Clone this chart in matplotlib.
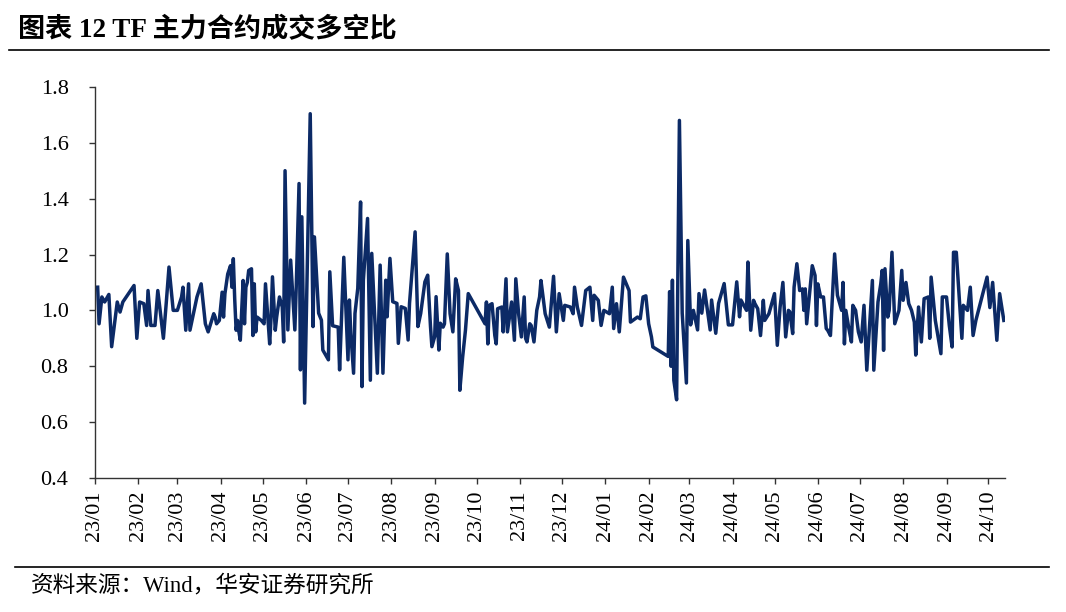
import matplotlib
matplotlib.use('Agg')
import matplotlib.pyplot as plt
import matplotlib.dates as mdates
import matplotlib.ticker as mticker
from matplotlib.lines import Line2D
import pandas as pd

plt.rcParams['font.family'] = ['Liberation Serif', 'Noto Sans CJK SC']

title = '图表 12 TF 主力合约成交多空比'
source = '资料来源：Wind，华安证券研究所'
yticks = [0.4, 0.6, 0.8, 1.0, 1.2, 1.4, 1.6, 1.8]

# (date, long/short volume ratio), 2023
ratio_2023 = [
    ("01-03", 1.083), ("01-04", 0.952), ("01-06", 1.048), ("01-08", 1.03), ("01-11", 1.057),
    ("01-13", 0.87), ("01-17", 1.03), ("01-19", 0.994), ("01-21", 1.03), ("01-29", 1.089),
    ("01-31", 0.90), ("02-02", 1.03), ("02-05", 1.024), ("02-07", 0.946), ("02-08", 1.071),
    ("02-10", 0.946), ("02-13", 0.946), ("02-15", 1.071), ("02-19", 0.90), ("02-21", 1.024),
    ("02-23", 1.155), ("02-26", 1.0), ("03-01", 1.0), ("03-04", 1.048), ("03-05", 1.083),
    ("03-07", 0.929), ("03-09", 1.095), ("03-10", 0.929), ("03-13", 1.0), ("03-15", 1.048),
    ("03-18", 1.095), ("03-21", 0.952), ("03-23", 0.923), ("03-27", 0.988), ("03-28", 0.976),
    ("03-29", 0.952), ("03-31", 0.964), ("04-02", 1.065), ("04-03", 0.976), ("04-04", 1.06),
    ("04-06", 1.13), ("04-08", 1.16), ("04-09", 1.083), ("04-10", 1.185), ("04-11", 1.04),
    ("04-12", 0.929), ("04-13", 0.964), ("04-14", 0.923), ("04-15", 0.893), ("04-17", 1.107),
    ("04-18", 0.952), ("04-19", 1.083), ("04-20", 1.10), ("04-21", 1.143), ("04-23", 1.149),
    ("04-24", 0.91), ("04-25", 1.095), ("04-26", 0.923), ("04-27", 0.976), ("04-30", 0.964),
    ("05-02", 0.952), ("05-03", 1.095), ("05-06", 0.88), ("05-07", 0.976), ("05-08", 1.12),
    ("05-10", 0.929), ("05-11", 0.976), ("05-13", 1.048), ("05-15", 1.012), ("05-16", 0.887),
    ("05-17", 1.50), ("05-19", 0.93), ("05-21", 1.18), ("05-24", 0.93), ("05-25", 1.085),
    ("05-27", 1.454), ("05-28", 0.787), ("05-29", 1.335), ("05-31", 0.668), ("06-04", 1.704),
    ("06-06", 0.942), ("06-07", 1.263), ("06-10", 0.99), ("06-12", 0.965), ("06-13", 0.858),
    ("06-17", 0.823), ("06-18", 1.138), ("06-20", 0.945), ("06-24", 0.94), ("06-25", 0.787),
    ("06-28", 1.19), ("07-01", 0.823), ("07-02", 1.037), ("07-03", 0.918), ("07-05", 0.775),
    ("07-06", 0.989), ("07-08", 1.079), ("07-10", 1.388), ("07-11", 0.727), ("07-12", 1.108),
    ("07-15", 1.329), ("07-17", 0.75), ("07-18", 1.204), ("07-22", 0.775), ("07-24", 1.162),
    ("07-26", 0.775), ("07-28", 1.108), ("07-29", 0.977), ("07-31", 1.186), ("08-02", 1.031),
    ("08-05", 1.025), ("08-06", 0.882), ("08-08", 1.013), ("08-11", 1.007), ("08-13", 0.894),
    ("08-14", 1.025), ("08-18", 1.281), ("08-20", 0.942), ("08-22", 0.989), ("08-25", 1.102),
    ("08-27", 1.126), ("08-29", 0.942), ("08-30", 0.87), ("09-01", 0.906), ("09-02", 1.049),
    ("09-04", 0.858), ("09-05", 0.954), ("09-07", 0.94), ("09-08", 0.952), ("09-10", 1.202),
    ("09-12", 0.988), ("09-14", 0.923), ("09-16", 1.113), ("09-18", 1.071), ("09-19", 0.714),
    ("09-21", 0.833), ("09-23", 0.929), ("09-25", 1.06), ("10-07", 0.952), ("10-08", 1.03),
    ("10-09", 0.88), ("10-10", 1.018), ("10-12", 1.024), ("10-14", 0.91), ("10-15", 0.88),
    ("10-16", 1.006), ("10-19", 1.012), ("10-20", 0.923), ("10-22", 1.113), ("10-23", 0.923),
    ("10-26", 1.03), ("10-28", 0.893), ("10-29", 1.113), ("10-31", 0.988), ("11-02", 0.905),
    ("11-04", 1.048), ("11-05", 0.90), ("11-06", 0.887), ("11-08", 0.952), ("11-09", 0.946),
    ("11-11", 0.887), ("11-13", 1.0), ("11-15", 1.048), ("11-16", 1.107), ("11-19", 0.988),
    ("11-22", 0.94), ("11-25", 1.122), ("11-27", 0.923), ("11-29", 1.06), ("12-02", 0.964),
    ("12-03", 1.018), ("12-07", 1.012), ("12-09", 0.988), ("12-10", 1.083), ("12-12", 1.012),
    ("12-15", 0.946), ("12-18", 1.071), ("12-21", 1.083), ("12-23", 0.964), ("12-24", 1.054),
    ("12-27", 1.036), ("12-29", 0.946), ("12-31", 1.0),
]

# 2024
ratio_2024 = [
    ("01-04", 0.988), ("01-06", 1.083), ("01-07", 0.935), ("01-09", 1.024), ("01-11", 0.923),
    ("01-14", 1.119), ("01-18", 1.071), ("01-19", 0.958), ("01-24", 0.976), ("01-26", 0.97),
    ("01-28", 1.048), ("01-30", 1.052), ("02-01", 0.952), ("02-03", 0.905), ("02-04", 0.869),
    ("02-15", 0.835), ("02-16", 1.067), ("02-17", 0.80), ("02-18", 1.108), ("02-19", 0.75),
    ("02-21", 0.68), ("02-23", 1.68), ("02-25", 0.99), ("02-28", 0.74), ("02-29", 1.25),
    ("03-02", 0.948), ("03-04", 1.0), ("03-07", 0.93), ("03-08", 1.06), ("03-10", 0.99),
    ("03-12", 1.073), ("03-16", 0.93), ("03-17", 1.037), ("03-20", 0.918), ("03-22", 1.025),
    ("03-26", 1.096), ("03-29", 0.948), ("04-01", 0.948), ("04-04", 1.102), ("04-06", 0.977),
    ("04-07", 1.037), ("04-11", 1.0), ("04-12", 1.173), ("04-14", 0.929), ("04-16", 1.036),
    ("04-17", 1.024), ("04-19", 1.006), ("04-21", 0.91), ("04-23", 1.036), ("04-24", 0.964),
    ("04-27", 0.988), ("04-29", 1.024), ("05-01", 1.06), ("05-03", 0.875), ("05-05", 1.012),
    ("05-07", 1.10), ("05-09", 0.905), ("05-11", 1.0), ("05-12", 0.994), ("05-14", 0.917),
    ("05-15", 1.083), ("05-17", 1.167), ("05-19", 1.071), ("05-21", 1.077), ("05-22", 1.0),
    ("05-23", 1.077), ("05-24", 0.952), ("05-28", 1.16), ("05-30", 1.125), ("05-31", 0.946),
    ("06-01", 1.095), ("06-03", 1.048), ("06-05", 1.048), ("06-07", 0.935), ("06-08", 0.929),
    ("06-10", 0.91), ("06-13", 1.202), ("06-15", 1.054), ("06-18", 1.0), ("06-19", 1.10),
    ("06-20", 0.88), ("06-21", 1.0), ("06-23", 0.94), ("06-25", 0.887), ("06-26", 1.018),
    ("06-28", 1.0), ("06-30", 0.923), ("07-02", 0.887), ("07-04", 1.018), ("07-06", 0.786),
    ("07-10", 1.107), ("07-11", 0.786), ("07-14", 1.03), ("07-16", 1.095), ("07-17", 1.143),
    ("07-18", 0.857), ("07-19", 1.149), ("07-21", 0.976), ("07-22", 1.0), ("07-24", 1.208),
    ("07-26", 0.952), ("07-29", 1.0), ("07-31", 1.143), ("08-01", 1.036), ("08-03", 1.10),
    ("08-05", 1.024), ("08-07", 1.0), ("08-09", 0.958), ("08-10", 0.84), ("08-12", 1.012),
    ("08-14", 0.887), ("08-16", 1.042), ("08-19", 1.048), ("08-20", 0.90), ("08-21", 1.119),
    ("08-24", 0.964), ("08-28", 0.845), ("08-29", 1.048), ("09-01", 1.048), ("09-03", 0.946),
    ("09-05", 0.869), ("09-06", 1.208), ("09-08", 1.208), ("09-12", 0.90), ("09-13", 1.018),
    ("09-16", 1.0), ("09-18", 1.083), ("09-20", 0.91), ("09-22", 0.964), ("09-30", 1.119),
    ("10-02", 1.01), ("10-04", 1.10), ("10-07", 0.893), ("10-09", 1.06), ("10-12", 0.964),
]

dates = [pd.Timestamp('2023-' + d) for d, _ in ratio_2023] + \
        [pd.Timestamp('2024-' + d) for d, _ in ratio_2024]
values = [v for _, v in ratio_2023] + [v for _, v in ratio_2024]

fig = plt.figure(figsize=(10.66, 6.12), dpi=100)
ax = fig.add_axes([0.089, 0.219, 0.854, 0.639])

ax.plot(dates, values, color='#0c2a66', lw=2.5)

ax.set_ylim(0.4, 1.8)
ax.set_yticks(yticks)
ax.yaxis.set_major_formatter(mticker.FormatStrFormatter('%.1f'))
ax.set_xlim(pd.Timestamp('2023-01-01'), pd.Timestamp('2024-10-13'))
ax.xaxis.set_major_locator(mdates.MonthLocator())
ax.xaxis.set_major_formatter(mdates.DateFormatter('%y/%m'))

for s in ['top', 'right']:
    ax.spines[s].set_visible(False)
for s in ['left', 'bottom']:
    ax.spines[s].set_color('#333333')
    ax.spines[s].set_linewidth(1.0)

ax.tick_params(axis='both', direction='out', length=4, width=1, color='#333333', labelsize=16)
ax.tick_params(axis='y', pad=15)
ax.tick_params(axis='x', pad=5)
plt.setp(ax.get_xticklabels(), rotation=90)

fig.text(0.017, 0.951, title, fontsize=19.5, fontweight='bold', va='center', ha='left')
fig.add_artist(Line2D([0.008, 0.984], [0.918, 0.918], transform=fig.transFigure,
                      color='black', lw=1.2))
fig.add_artist(Line2D([0.014, 0.984], [0.0735, 0.0735], transform=fig.transFigure,
                      color='black', lw=1.2))
fig.text(0.029, 0.043, source, fontsize=16.3, va='center', ha='left')

fig.savefig('out.png', dpi=100)
